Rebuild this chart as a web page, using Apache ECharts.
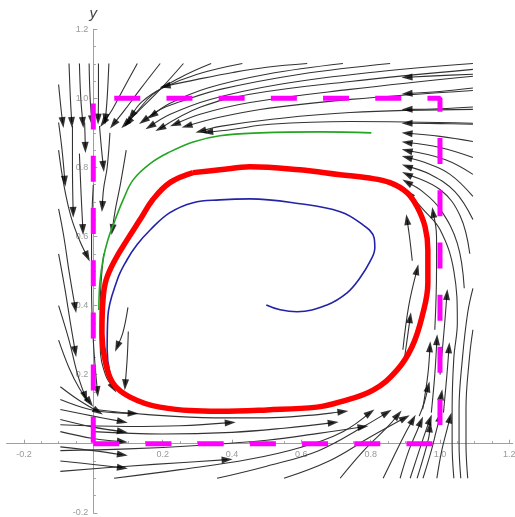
<!DOCTYPE html>
<html>
<head>
    <meta charset="utf-8">
    <script src="https://cdn.jsdelivr.net/npm/echarts@6/dist/echarts.min.js"></script>
</head>
<body style="margin:0;background:#fff">
    <div id="main" style="width:515px;height:517px"></div>
    <script type="text/javascript">
        // limit cycle and two trajectories (x, y)
        var redCycle = [[0.288,0.785],[0.365,0.793],[0.452,0.802],[0.596,0.793],[0.712,0.779],[0.790,0.770],
            [0.856,0.756],[0.905,0.727],[0.934,0.686],[0.957,0.628],[0.965,0.561],[0.965,0.466],[0.948,0.367],
            [0.919,0.280],[0.876,0.213],[0.807,0.155],[0.712,0.121],[0.645,0.106],[0.501,0.098],[0.365,0.094],
            [0.192,0.106],[0.106,0.135],[0.057,0.175],[0.034,0.242],[0.025,0.320],[0.028,0.416],[0.037,0.474],
            [0.063,0.533],[0.098,0.591],[0.135,0.649],[0.172,0.707],[0.221,0.756],[0.288,0.785]];
        var blueOrbit = [[0.499,0.402],[0.539,0.388],[0.588,0.382],[0.674,0.402],[0.732,0.437],[0.769,0.480],
            [0.798,0.527],[0.812,0.567],[0.810,0.596],[0.769,0.640],[0.712,0.672],[0.596,0.695],[0.452,0.709],
            [0.365,0.706],[0.288,0.698],[0.221,0.669],[0.164,0.619],[0.126,0.576],[0.097,0.532],[0.069,0.474],
            [0.042,0.367],[0.040,0.272],[0.048,0.205],[0.066,0.167]];
        var greenOrbit = [[0.802,0.900],[0.654,0.903],[0.481,0.900],[0.365,0.892],[0.288,0.874],[0.221,0.845],
            [0.164,0.811],[0.115,0.764],[0.086,0.706],[0.063,0.648],[0.042,0.590],[0.028,0.532],[0.019,0.465],
            [0.016,0.387]];
        var boxPath = [[0,0],[1,0],[1,1],[0,1],[0,0]];

        // stream lines, each ends at its arrow head
        var streamTop = [
            [[0.617,1.101],[0.50,1.09],[0.403,1.075],[0.30,1.055],[0.207,1.035]],
            [[0.856,1.101],[0.597,1.07],[0.366,1.026],[0.25,0.99],[0.193,0.968],[0.145,0.935]],
            [[1.095,1.101],[0.827,1.078],[0.539,1.041],[0.337,0.997],[0.222,0.954],[0.164,0.919]],
            [[1.095,1.084],[0.741,1.049],[0.452,1.012],[0.308,0.974],[0.193,0.913]],
            [[1.095,1.064],[0.741,1.026],[0.452,0.988],[0.308,0.954],[0.236,0.925]],
            [[1.095,1.023],[0.741,0.997],[0.481,0.968],[0.337,0.939],[0.27,0.92]],
            [[1.095,0.968],[0.741,0.959],[0.51,0.939],[0.366,0.919],[0.31,0.905]],
            [[1.095,0.928],[0.741,0.933],[0.51,0.925],[0.40,0.91],[0.33,0.902]],
            [[0.72,1.101],[0.50,1.07],[0.33,1.03],[0.22,0.985],[0.17,0.95]],
            [[0.43,1.101],[0.30,1.07],[0.20,1.03],[0.14,0.99],[0.11,0.95]],
            [[0.34,1.101],[0.25,1.06],[0.17,1.01],[0.125,0.96],[0.1,0.93]],
            [[0.26,1.101],[0.193,1.026],[0.135,0.968],[0.092,0.925]],
            [[0.193,1.101],[0.135,1.026],[0.092,0.968],[0.058,0.925]],
            [[0.127,1.101],[0.086,1.026],[0.055,0.968],[0.029,0.93]]
        ];
        var streamRight = [
            [[1.095,1.07],[1.0,1.066],[0.905,1.061]],
            [[1.095,1.03],[1.0,1.02],[0.905,1.014]],
            [[1.095,0.975],[1.0,0.97],[0.905,0.968]],
            [[1.095,0.925],[1.0,0.927],[0.905,0.928]],
            [[1.095,0.875],[1.0,0.89],[0.905,0.899]],
            [[1.095,0.829],[1.0,0.858],[0.905,0.872]],
            [[1.095,0.78],[1.014,0.823],[0.905,0.849]],
            [[1.095,0.716],[1.029,0.78],[0.957,0.814],[0.905,0.829]],
            [[1.095,0.649],[1.043,0.73],[0.971,0.78],[0.905,0.803]],
            [[1.086,0.55],[1.058,0.66],[1.0,0.736],[0.905,0.78]],
            [[1.07,0.45],[1.05,0.58],[1.0,0.68],[0.95,0.73],[0.905,0.757]],
            [[1.04,-0.1],[1.035,0.0],[1.035,0.1],[1.04,0.25],[1.05,0.35],[1.04,0.5],[1.0,0.62],[0.95,0.68],[0.91,0.725]]
        ];
        var streamUp = [
            [[0.94,0.08],[0.955,0.12],[0.966,0.165]],
            [[0.95,0.1],[0.965,0.2],[0.971,0.281]],
            [[0.975,0.09],[0.985,0.2],[0.991,0.301]],
            [[0.995,0.085],[1.004,0.142]],
            [[1.01,0.09],[1.02,0.2],[1.026,0.278]],
            [[1.0,0.2],[1.012,0.33],[1.02,0.432]],
            [[0.985,0.33],[0.99,0.5],[0.99,0.6],[0.98,0.67]],
            [[0.92,0.53],[0.912,0.6],[0.905,0.649]],
            [[0.893,0.272],[0.91,0.4],[0.934,0.504]],
            [[0.895,0.23],[0.905,0.3],[0.914,0.365]],
            [[0.712,-0.1],[0.78,-0.02],[0.85,0.05],[0.879,0.084]],
            [[0.836,-0.1],[0.87,-0.03],[0.9,0.03],[0.922,0.07]],
            [[0.885,-0.1],[0.91,-0.02],[0.935,0.04],[0.945,0.064]],
            [[0.914,-0.1],[0.94,-0.02],[0.96,0.04],[0.971,0.07]],
            [[0.934,-0.1],[0.955,-0.03],[0.968,0.02],[0.971,0.049]],
            [[0.951,-0.1],[0.975,-0.02],[0.99,0.04],[1.0,0.078]],
            [[0.991,-0.1],[1.005,-0.02],[1.02,0.04],[1.029,0.075]]
        ];
        var streamBottom = [
            [[-0.095,0.165],[-0.04,0.125],[0.014,0.093]],
            [[-0.095,0.128],[-0.01,0.099],[0.06,0.09],[0.115,0.088]],
            [[-0.095,0.099],[0.0,0.08],[0.084,0.064]],
            [[-0.095,0.07],[0.0,0.048],[0.084,0.035]],
            [[-0.095,0.035],[0.0,0.015],[0.084,0.006]],
            [[-0.095,-0.009],[0.0,-0.02],[0.084,-0.032]],
            [[-0.095,-0.05],[0.0,-0.06],[0.084,-0.07]],
            [[0.0,0.1],[0.15,0.085],[0.35,0.075],[0.5,0.075],[0.62,0.082],[0.72,0.093]],
            [[-0.095,0.055],[0.1,0.05],[0.25,0.052],[0.395,0.061]],
            [[0.0,0.035],[0.2,0.028],[0.4,0.033],[0.55,0.045],[0.692,0.061]],
            [[-0.095,-0.02],[0.1,-0.015],[0.3,-0.005],[0.5,0.01],[0.65,0.03],[0.778,0.049]],
            [[-0.095,-0.08],[0.1,-0.065],[0.25,-0.055],[0.386,-0.046]],
            [[0.06,-0.1],[0.25,-0.075],[0.45,-0.045],[0.6,-0.01],[0.72,0.035],[0.798,0.09]],
            [[0.357,-0.1],[0.5,-0.065],[0.65,-0.02],[0.78,0.05],[0.847,0.09]],
            [[0.55,-0.1],[0.68,-0.05],[0.8,0.02],[0.899,0.075]]
        ];
        var streamLeft = [
            [[-0.07,1.101],[-0.066,1.0],[-0.062,0.93]],
            [[-0.04,1.101],[-0.036,1.0],[-0.03,0.93]],
            [[-0.012,1.101],[-0.009,1.0],[-0.004,0.935]],
            [[0.015,1.101],[0.015,1.0],[0.014,0.94]],
            [[0.045,1.101],[0.04,1.0],[0.035,0.94]],
            [[-0.1,1.04],[-0.092,0.96],[-0.088,0.93]],
            [[-0.1,0.93],[-0.09,0.85],[-0.082,0.76]],
            [[-0.06,0.92],[-0.06,0.8],[-0.058,0.67]],
            [[-0.025,0.93],[-0.024,0.9],[-0.023,0.858]],
            [[-0.04,0.84],[-0.035,0.72],[-0.03,0.62]],
            [[0.018,0.92],[0.024,0.85],[0.029,0.803]],
            [[0.048,0.9],[0.04,0.8],[0.03,0.74],[0.026,0.687]],
            [[0.095,0.85],[0.078,0.75],[0.064,0.68],[0.055,0.62]],
            [[-0.1,0.85],[-0.085,0.75],[-0.065,0.66],[-0.04,0.59],[-0.017,0.542]],
            [[-0.1,0.68],[-0.085,0.6],[-0.07,0.5],[-0.052,0.394]],
            [[-0.1,0.55],[-0.082,0.45],[-0.066,0.35],[-0.052,0.267]],
            [[-0.1,0.4],[-0.07,0.3],[-0.045,0.2],[-0.023,0.136]],
            [[-0.1,0.3],[-0.07,0.22],[-0.04,0.16],[-0.01,0.12]],
            [[0.0,0.75],[-0.005,0.6],[-0.005,0.45],[0.0,0.3],[0.012,0.151]],
            [[0.03,0.55],[0.02,0.4],[0.02,0.28],[0.035,0.2],[0.058,0.162]],
            [[0.1,0.395],[0.085,0.32],[0.069,0.281]],
            [[0.101,0.325],[0.098,0.25],[0.092,0.171]]
        ];
        var streamOpen = [
            [[1.08,-0.1],[1.075,0.0],[1.075,0.1],[1.085,0.25],[1.095,0.33]],
            [[1.06,-0.1],[1.055,0.0],[1.055,0.1],[1.065,0.25],[1.08,0.38],[1.095,0.45]]
        ];

        var withHead = streamTop.concat(streamRight, streamUp, streamBottom, streamLeft);
        var allStreams = withHead.concat(streamOpen);

        // arrow heads at the end of each line, turned along the last segment
        var heads = withHead.map(function (s) {
            var a = s[s.length - 2], b = s[s.length - 1];
            var ang = Math.atan2(b[1] - a[1], b[0] - a[0]) * 180 / Math.PI;
            return { value: b, symbolRotate: ang - 90 };
        });

        var series = allStreams.map(function (s) {
            return {
                type: 'line', data: s, smooth: 0.4, symbol: 'none', silent: true,
                lineStyle: { color: '#333', width: 1.1 }, z: 2
            };
        });
        series.push({
            type: 'scatter', data: heads, symbol: 'triangle', symbolSize: [7, 11],
            itemStyle: { color: '#000' }, silent: true, z: 3
        });
        series.push({
            type: 'line', data: boxPath, symbol: 'none', silent: true, z: 4,
            lineStyle: { color: '#ff00ff', width: 5, type: [26, 26.2], dashOffset: 0, cap: 'butt' }
        });
        series.push({
            type: 'line', data: greenOrbit, smooth: 0.4, symbol: 'none', silent: true, z: 5,
            lineStyle: { color: '#22a522', width: 1.6 }
        });
        series.push({
            type: 'line', data: blueOrbit, smooth: 0.4, symbol: 'none', silent: true, z: 5,
            lineStyle: { color: '#2323aa', width: 1.6 }
        });
        series.push({
            type: 'line', data: redCycle, smooth: 0.4, symbol: 'none', silent: true, z: 6,
            lineStyle: { color: '#ff0000', width: 5.5 }
        });

        var axisGray = '#a0a0a0';
        var tickLabel = function (v) {
            return Math.abs(v) < 1e-9 ? '' : v.toFixed(1);
        };
        // grid A holds the data (x -0.25..1.21, y -0.2..1.2); grid B only carries the x ticks
        var gridTop = 29.3, gridBottom = 4.2;
        var zeroFromLeft = 86.7;   // pixels from grid A left edge to x = 0
        var zeroFromBottom = 69.1; // pixels from the bottom edge to y = 0

        var myChart = echarts.init(document.getElementById('main'));
        var option = {
            animation: false,
            grid: [
                { left: 6.6, right: 2.2, top: gridTop, bottom: gridBottom, outerBoundsMode: 'none', containLabel: false },
                { left: 24, right: 5.7, top: gridTop, bottom: gridBottom, outerBoundsMode: 'none', containLabel: false }
            ],
            xAxis: [{
                gridIndex: 0, type: 'value', min: -0.25, max: 1.21, position: 'bottom', offset: -zeroFromBottom,
                axisLine: { onZero: false, lineStyle: { color: axisGray, width: 1 } },
                axisTick: { show: false }, axisLabel: { show: false }, splitLine: { show: false }
            }, {
                gridIndex: 1, type: 'value', min: -0.2, max: 1.2, interval: 0.2, position: 'bottom', offset: -zeroFromBottom,
                axisLine: { show: false, onZero: false },
                axisTick: { inside: true, length: 4, lineStyle: { color: axisGray } },
                minorTick: { show: true, splitNumber: 4, length: 2.5, lineStyle: { color: axisGray } },
                axisLabel: { formatter: tickLabel, color: '#999', fontSize: 9, margin: 6,
                    fontFamily: 'Liberation Sans' },
                splitLine: { show: false }
            }],
            yAxis: [{
                gridIndex: 0, type: 'value', min: -0.2, max: 1.2, interval: 0.2, position: 'left', offset: -zeroFromLeft,
                name: 'y', nameLocation: 'end', nameGap: 8,
                nameTextStyle: { fontStyle: 'italic', fontSize: 15, color: '#444', fontFamily: 'Liberation Sans' },
                axisLine: { onZero: false, lineStyle: { color: axisGray, width: 1 } },
                axisTick: { inside: true, length: 4, lineStyle: { color: axisGray } },
                minorTick: { show: true, splitNumber: 4, length: 2.5, lineStyle: { color: axisGray } },
                axisLabel: { formatter: tickLabel, color: '#999', fontSize: 9, margin: 5,
                    fontFamily: 'Liberation Sans' },
                splitLine: { show: false }
            }, {
                gridIndex: 1, type: 'value', min: -0.2, max: 1.2, show: false
            }],
            series: series
        };
        myChart.setOption(option);
    </script>
</body>
</html>
